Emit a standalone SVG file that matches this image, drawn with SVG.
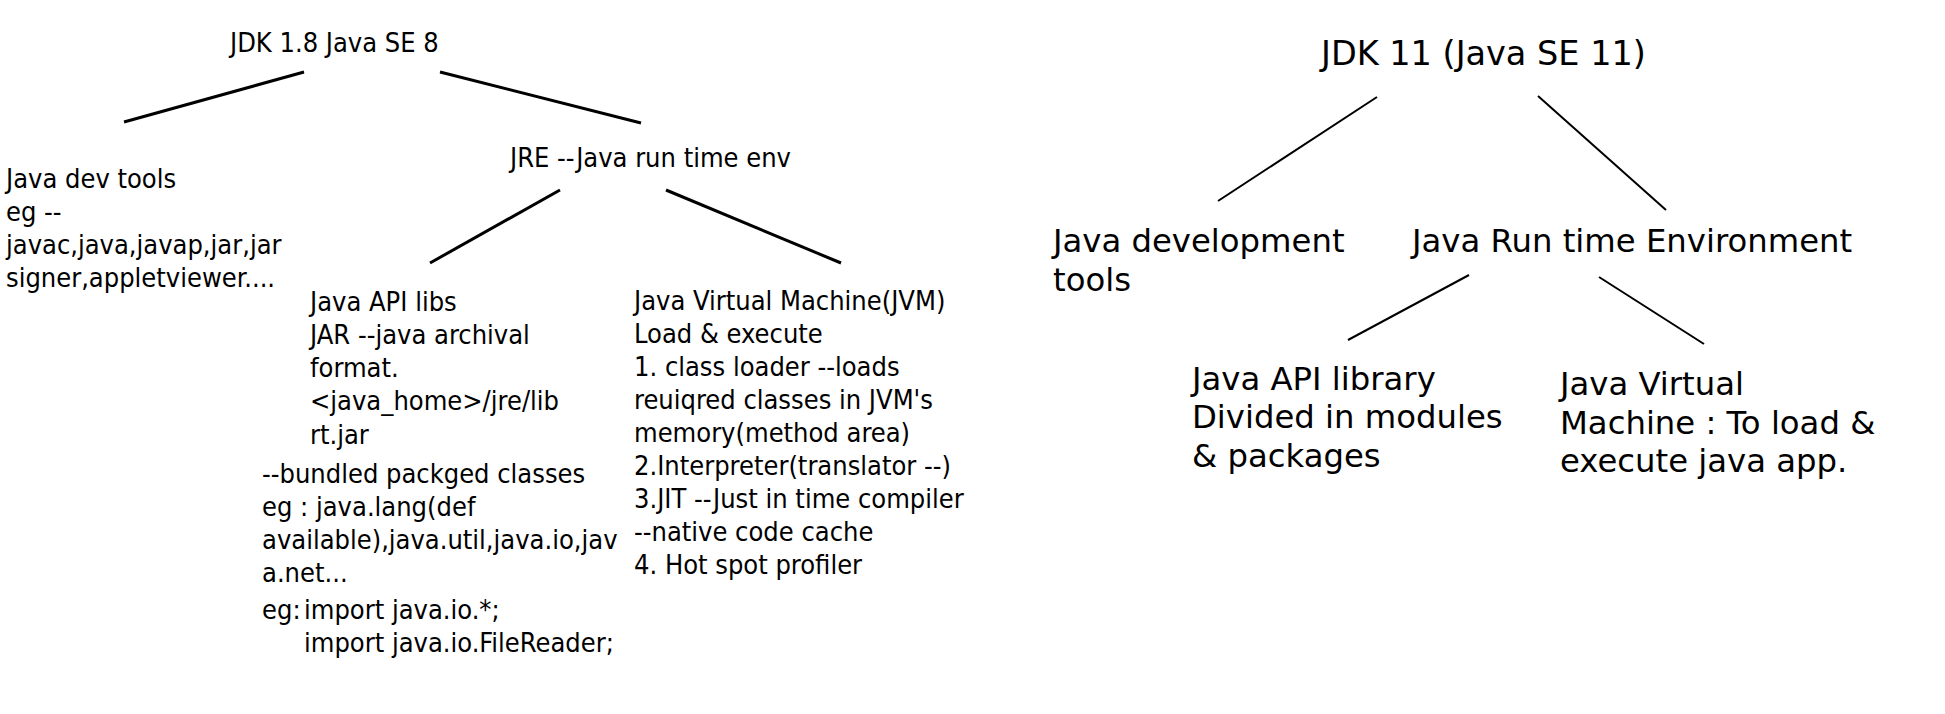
<svg xmlns="http://www.w3.org/2000/svg" width="1945" height="714" viewBox="0 0 1945 714">
<style>
.l{font-family:"DejaVu Sans Condensed","DejaVu Sans",sans-serif;font-stretch:condensed;font-size:27px;fill:#000}
.r{font-family:"DejaVu Sans","Verdana",sans-serif;font-size:32.3px;fill:#000}
.c1 line{stroke:#000;stroke-width:3;stroke-linecap:butt}
.c2 line{stroke:#000;stroke-width:2;stroke-linecap:butt}
</style>
<rect width="1945" height="714" fill="#fff"/>
<g id="connectors">
<g class="c1">
<line x1="304" y1="72" x2="124" y2="122"/>
<line x1="440" y1="72" x2="641" y2="123"/>
<line x1="560" y1="190" x2="430" y2="263"/>
<line x1="666" y1="190" x2="841" y2="263"/>
</g>
<g class="c2">
<line x1="1377" y1="97" x2="1218" y2="201"/>
<line x1="1538" y1="96" x2="1666" y2="210"/>
<line x1="1469" y1="275" x2="1348" y2="340"/>
<line x1="1599" y1="277" x2="1704" y2="344"/>
</g>
</g>
<g id="jdk8">
<text class="l" x="230" y="52">JDK 1.8 Java SE 8</text>
</g>
<g id="devtools8">
<text class="l" x="6" y="188">Java dev tools</text>
<text class="l" x="6" y="221">eg --</text>
<text class="l" x="6" y="254">javac,java,javap,jar,jar</text>
<text class="l" x="6" y="287">signer,appletviewer....</text>
</g>
<g id="jre8">
<text class="l" x="510" y="167">JRE --Java run time env</text>
</g>
<g id="apilibs8">
<text class="l" x="310" y="311">Java API libs</text>
<text class="l" x="310" y="344">JAR --java archival</text>
<text class="l" x="310" y="377">format.</text>
<text class="l" x="310" y="410">&lt;java_home&gt;/jre/lib</text>
<text class="l" x="310" y="444">rt.jar</text>
<text class="l" x="262" y="483">--bundled packged classes</text>
<text class="l" x="262" y="516">eg : java.lang(def</text>
<text class="l" x="262" y="549">available),java.util,java.io,jav</text>
<text class="l" x="262" y="582">a.net...</text>
<text class="l" x="262" y="619">eg:</text>
<text class="l" x="304" y="619">import java.io.*;</text>
<text class="l" x="304" y="652">import java.io.FileReader;</text>
</g>
<g id="jvm8">
<text class="l" x="634" y="310">Java Virtual Machine(JVM)</text>
<text class="l" x="634" y="343">Load &amp; execute</text>
<text class="l" x="634" y="376">1. class loader --loads</text>
<text class="l" x="634" y="409">reuiqred classes in JVM's</text>
<text class="l" x="634" y="442">memory(method area)</text>
<text class="l" x="634" y="475">2.Interpreter(translator --)</text>
<text class="l" x="634" y="508">3.JIT --Just in time compiler</text>
<text class="l" x="634" y="541">--native code cache</text>
<text class="l" x="634" y="574">4. Hot spot profiler</text>
</g>
<g id="jdk11">
<text class="r" x="1321" y="65" style="font-size:33.5px">JDK 11 (Java SE 11)</text>
</g>
<g id="devtools11">
<text class="r" x="1053" y="252">Java development</text>
<text class="r" x="1053" y="291">tools</text>
</g>
<g id="jre11">
<text class="r" x="1412" y="252">Java Run time Environment</text>
</g>
<g id="apilib11">
<text class="r" x="1192" y="390">Java API library</text>
<text class="r" x="1192" y="428">Divided in modules</text>
<text class="r" x="1192" y="467">&amp; packages</text>
</g>
<g id="jvm11">
<text class="r" x="1560" y="395">Java Virtual</text>
<text class="r" x="1560" y="434">Machine : To load &amp;</text>
<text class="r" x="1560" y="472">execute java app.</text>
</g>
</svg>
